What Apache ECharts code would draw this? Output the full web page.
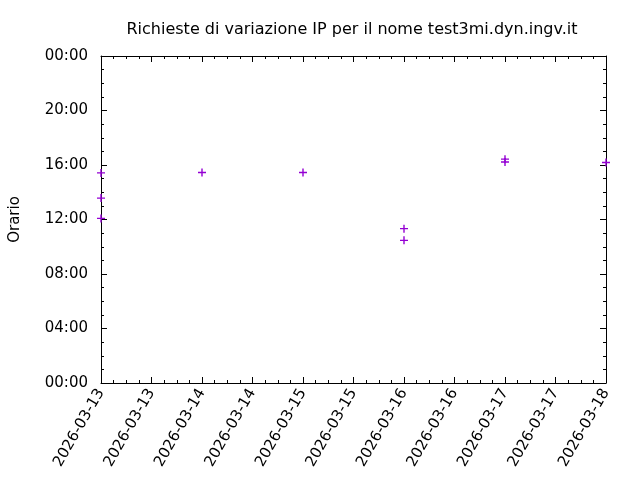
<!DOCTYPE html>
<html><head><meta charset="utf-8">
<script src="https://cdn.jsdelivr.net/npm/echarts@6/dist/echarts.min.js"></script>
<style>html,body{margin:0;padding:0;background:#fff}#c{width:640px;height:480px}</style>
</head><body><div id="c"></div>
<script>
const titleText = "Richieste di variazione IP per il nome test3mi.dyn.ingv.it";
const yName = "Orario";
const startDate = "2026-03-13";
const dayCount = 5;
// request dates and times (hours of day)
const dates = ["2026-03-13","2026-03-13","2026-03-13","2026-03-14","2026-03-15","2026-03-16","2026-03-16","2026-03-17","2026-03-17","2026-03-18"];
const hours = [15.42, 13.57, 12.08, 15.45, 15.45, 11.33, 10.47, 16.43, 16.22, 16.18];
const yTicks = [0, 4, 8, 12, 16, 20, 24];

const p0 = startDate.split('-');
const base = Date.UTC(+p0[0], +p0[1]-1, +p0[2]);
function dayIndex(s){ const p=s.split('-'); return (Date.UTC(+p[0], +p[1]-1, +p[2]) - base)/86400000; }
function dayLabel(v){ const d=new Date(base + Math.floor(v+1e-9)*86400000); return d.toISOString().slice(0,10); }
const pts = dates.map((d,i)=>[dayIndex(d), hours[i]]);
const fam = "DejaVu Sans";
const plus = 'path://M0,3.3H3.3V0H4.7V3.3H8V4.7H4.7V8H3.3V4.7H0Z';
const chart = echarts.init(document.getElementById('c'));
const axLine = {show:true, onZero:false, lineStyle:{color:'#000', width:1}};
const tick = {inside:true, length:6, lineStyle:{color:'#000'}};
const mtick = {show:true, splitNumber:4, length:3, lineStyle:{color:'#000'}};
chart.setOption({
  animation:false,
  title:{text:titleText, left:347, top:17, textAlign:'center', textStyle:{fontFamily:fam, fontSize:16, fontWeight:'normal', color:'#000'}},
  grid:{left:101, right:34, top:56, bottom:97},
  xAxis:[{type:'value', min:0, max:dayCount, interval:0.5, position:'bottom',
    axisLine:axLine, axisTick:tick, minorTick:mtick, splitLine:{show:false},
    axisLabel:{rotate:60, fontFamily:fam, fontSize:15, color:'#000', margin:7, formatter:v=>dayLabel(v), showMinLabel:true, showMaxLabel:true}},
   {type:'value', min:0, max:dayCount, interval:0.5, position:'top',
    axisLine:axLine, axisTick:tick, minorTick:mtick, splitLine:{show:false}, axisLabel:{show:false}}],
  yAxis:[{type:'value', min:0, max:24, interval:4, position:'left',
    name:yName, nameLocation:'middle', nameGap:78, nameTextStyle:{fontFamily:fam, fontSize:15, color:'#000'},
    axisLine:axLine, axisTick:tick, minorTick:mtick, splitLine:{show:false},
    axisLabel:{fontFamily:fam, fontSize:15, color:'#000', margin:13, formatter:v=>String(v%24).padStart(2,'0')+':00'}},
   {type:'value', min:0, max:24, interval:4, position:'right',
    axisLine:axLine, axisTick:tick, minorTick:mtick, splitLine:{show:false}, axisLabel:{show:false}}],
  series:[{type:'scatter', xAxisIndex:0, yAxisIndex:0, data:pts, clip:false,
    symbol:plus, symbolSize:8, itemStyle:{color:'#9400d3', opacity:1}}]
});
</script></body></html>
